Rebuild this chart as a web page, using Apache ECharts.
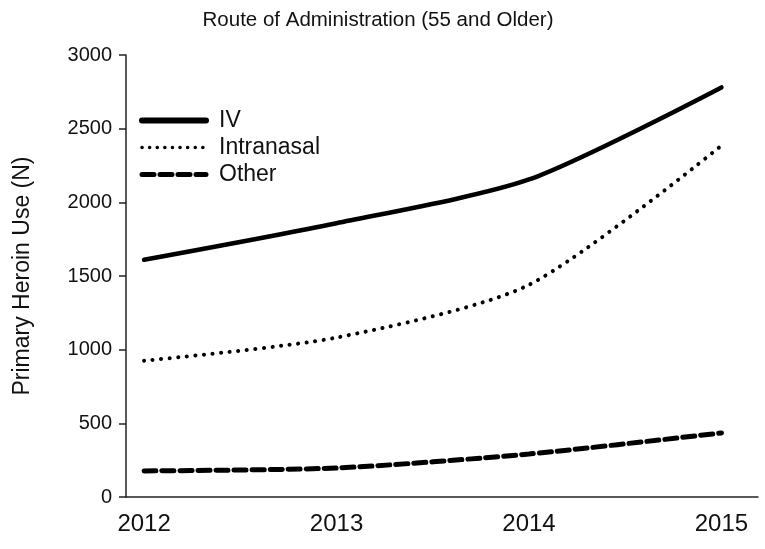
<!DOCTYPE html>
<html>
<head>
<meta charset="utf-8">
<script src="https://cdn.jsdelivr.net/npm/echarts@6/dist/echarts.min.js"></script>
<style>html,body{margin:0;padding:0;background:#fff}#c{width:765px;height:549px}</style>
</head>
<body>
<div id="c"></div>
<script>
var years = [2012, 2013, 2014, 2015];
var ivValues = [1610, 1858, 2155, 2780];
var intranasalValues = [925, 1082, 1440, 2385];
var otherValues = [177, 197, 292, 435];
var yTicks = [0, 500, 1000, 1500, 2000, 2500, 3000];

function pairs(vals) { return years.map(function (y, i) { return [y, vals[i]]; }); }

var FONT = '"Liberation Sans", Arial, sans-serif';
var ivStyle = {color: '#000', width: 4.5, cap: 'round'};
var inStyle = {color: '#000', width: 4, type: [0.1, 8.5], cap: 'round'};
var otStyle = {color: '#000', width: 5, type: [12, 6], cap: 'round'};

var chart = echarts.init(document.getElementById('c'), null, {renderer: 'canvas'});
chart.setOption({
  animation: false,
  backgroundColor: '#fff',
  title: {
    text: 'Route of Administration (55 and Older)',
    left: 373, top: 5, textAlign: 'center',
    textStyle: {fontFamily: FONT, fontSize: 20.5, fontWeight: 'normal', color: '#111'}
  },
  legend: {
    left: 134, top: 104, orient: 'vertical', itemWidth: 64, itemHeight: 14, itemGap: 4,
    itemStyle: {opacity: 0},
    textStyle: {fontFamily: FONT, fontSize: 23, color: '#111', padding: [0, 0, 0, 8]},
    data: [
      {name: 'IV', lineStyle: {width: 6, type: 'solid', color: '#000'}},
      {name: 'Intranasal', lineStyle: {width: 3.5, type: [0.1, 7.5], cap: 'round', color: '#000'}},
      {name: 'Other', lineStyle: {width: 5, type: [12, 6], cap: 'round', color: '#000'}}
    ]
  },
  grid: {left: 126, right: 7, top: 55, bottom: 52, containLabel: false},
  xAxis: {
    type: 'value', min: 2011.906, max: 2015.19,
    axisLine: {show: true, lineStyle: {color: '#222', width: 1.5}},
    axisTick: {show: false},
    splitLine: {show: false},
    axisLabel: {
      customValues: years, formatter: function (v) { return String(v); },
      fontFamily: FONT, fontSize: 24, color: '#111', margin: 15
    }
  },
  yAxis: {
    type: 'value', min: 0, max: 3000, interval: 500,
    name: 'Primary Heroin Use (N)', nameLocation: 'middle', nameGap: 92, nameRotate: 90,
    nameTextStyle: {fontFamily: FONT, fontSize: 23, color: '#111'},
    axisLine: {show: true, lineStyle: {color: '#222', width: 1.5}},
    axisTick: {show: true, length: 7, lineStyle: {color: '#222', width: 1.5}},
    splitLine: {show: false},
    axisLabel: {
      customValues: yTicks, formatter: function (v) { return String(v); },
      fontFamily: FONT, fontSize: 20, color: '#111', margin: 14
    }
  },
  series: [
    {name: 'IV', type: 'line', data: pairs(ivValues), smooth: 0.25, symbol: 'none',
     lineStyle: ivStyle, itemStyle: {color: '#000'}},
    {name: 'Intranasal', type: 'line', data: pairs(intranasalValues), smooth: 0.25, symbol: 'none',
     lineStyle: inStyle, itemStyle: {color: '#000'}},
    {name: 'Other', type: 'line', data: pairs(otherValues), smooth: 0.25, symbol: 'none',
     lineStyle: otStyle, itemStyle: {color: '#000'}}
  ]
});
</script>
</body>
</html>
